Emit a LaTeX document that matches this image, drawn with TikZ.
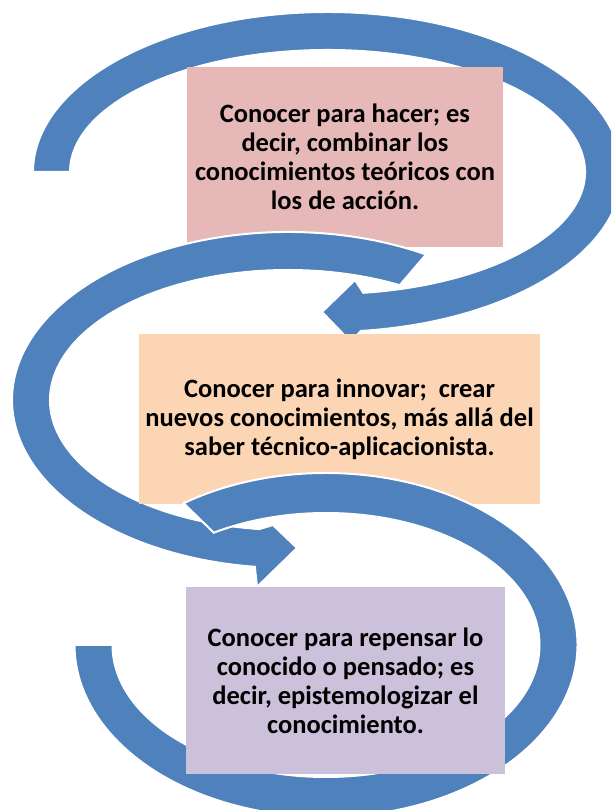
\documentclass[tikz,border=0pt]{standalone}
\usepackage{fontspec}
\setmainfont{Carlito}
\usepackage{tikz}
\usetikzlibrary{arrows,positioning}

\definecolor{arrowblue}{HTML}{4F81BD}
\definecolor{hacerpink}{HTML}{E6B9B8}
\definecolor{innovarpeach}{HTML}{FCD5B5}
\definecolor{repensarlilac}{HTML}{CCC1DA}

\begin{document}
\begin{tikzpicture}[x=1pt,y=1pt,node distance=262pt,
                    band/.style={fill=arrowblue,draw=white,line width=2pt,line join=miter}]
  \tikzstyle{box}=[rectangle,inner sep=0pt,align=center,
                   font=\bfseries\fontsize{26.5}{29}\selectfont]

  \useasboundingbox (0,0) rectangle (611,810);
  \clip (0,0) rectangle (611,810);

  % upper arrow, round the first box
  \draw[band,shift={(327.5,638)}]
    (180:294.5pt and 160pt) arc[start angle=180,end angle=-83.5,x radius=294.5pt,y radius=160pt]
    -- (23.5,-170) -- (-5.5,-140) -- (27.5,-108)
    -- (-82:257.5pt and 122pt) arc[start angle=-82,end angle=180,x radius=257.5pt,y radius=122pt]
    -- cycle;

  \node[box,fill=hacerpink,minimum width=316pt,minimum height=180pt] (hacer) at (345,653)
    {Conocer para hacer; es\\decir, combinar los\\conocimientos teóricos con\\los de acción.};

  % middle arrow, on the left
  \draw[band,shift={(288,410)}]
    (60:276pt and 168pt) arc[start angle=60,end angle=263.1,x radius=276pt,y radius=168pt]
    -- (-31,-187) -- (9,-148) -- (-15,-125)
    -- (263.1:238pt and 130pt) arc[start angle=263.1,end angle=62,x radius=238pt,y radius=130pt]
    -- cycle;

  \node[box,fill=innovarpeach,minimum width=401pt,minimum height=170pt] (innovar)
    [below of=hacer,xshift=-5.5pt]
    {Conocer para innovar;~ crear\\nuevos conocimientos, más allá del\\saber técnico-aplicacionista.};

  % lower arrow
  \draw[band,shift={(326,165)}]
    (124.5:251.5pt and 172pt) arc[start angle=124.5,end angle=-180,x radius=251.5pt,y radius=172pt]
    -- (180:213.5pt and 132pt) arc[start angle=-180,end angle=121.7,x radius=213.5pt,y radius=132pt]
    -- cycle;

  \node[box,fill=repensarlilac,minimum width=319pt,minimum height=187pt] (repensar)
    [below of=innovar,xshift=6pt]
    {Conocer para repensar lo\\conocido o pensado; es\\decir, epistemologizar el\\conocimiento.};
\end{tikzpicture}
\end{document}
